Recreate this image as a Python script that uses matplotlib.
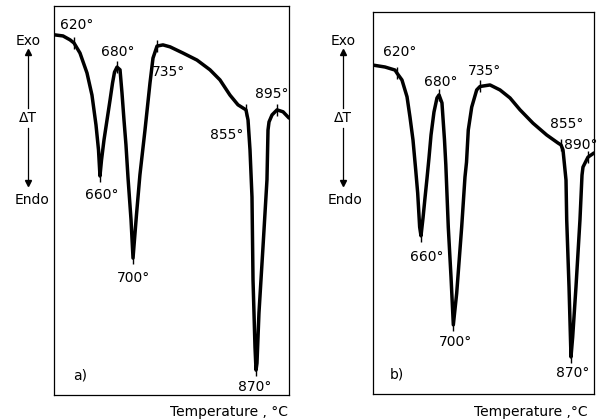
import numpy as np
import matplotlib
matplotlib.use('Agg')
import matplotlib.pyplot as plt

plt.rcParams['font.family'] = ['Liberation Sans Narrow', 'DejaVu Sans']
plt.rcParams['font.size'] = 10

# --- DANE: krzywe DTA (temperatura [°C], ΔT [j. umowne]) ---
temp_a = [593.0, 605.3, 614.8, 620.2, 628.4, 637.9, 644.7, 650.2, 653.6, 655.6,
          657.7, 661.1, 665.2, 669.3, 672.7, 675.4, 678.8, 682.9, 685.6, 688.3,
          691.0, 693.8, 697.9, 700.6, 705.3, 710.0, 716.9, 723.7, 727.8, 733.3,
          741.4, 751.0, 768.7, 787.7, 805.4, 819.0, 832.6, 843.5, 854.4, 857.2,
          859.9, 862.6, 864.0, 866.7, 868.1, 869.4, 872.1, 877.6, 883.0, 884.4,
          885.8, 889.9, 896.7, 904.9, 913.0]
dt_a = [92.6, 92.3, 91.3, 90.5, 87.9, 82.8, 77.1, 69.4, 63.0, 56.3,
        60.4, 65.6, 70.7, 75.8, 80.2, 83.0, 84.3, 83.6, 77.6, 70.7,
        64.3, 55.8, 45.0, 35.2, 46.3, 56.6, 68.1, 80.2, 86.6, 89.7,
        90.0, 89.5, 87.9, 86.1, 83.6, 81.0, 77.1, 74.6, 73.3, 70.7,
        63.0, 50.9, 29.6, 12.3, 6.4, 8.2, 21.1, 38.1, 55.3, 68.1,
        70.2, 72.0, 73.3, 72.8, 71.2]

temp_b = [586.0, 603.1, 617.4, 620.2, 627.3, 634.5, 638.7, 643.0, 646.9, 649.7,
          652.5, 654.4, 657.3, 660.1, 663.0, 665.8, 668.7, 672.9, 677.2, 680.1,
          684.3, 687.9, 689.8, 693.3, 697.2, 700.5, 705.3, 712.4, 717.1, 719.3,
          721.8, 726.7, 733.8, 738.5, 752.8, 767.0, 781.3, 795.5, 814.0, 833.6,
          849.7, 854.0, 856.8, 861.1, 862.1, 865.4, 868.2, 870.6, 875.3, 881.0,
          883.9, 885.3, 892.4, 901.0]
dt_b = [86.1, 85.6, 84.8, 84.0, 82.2, 77.8, 72.5, 66.5, 58.6, 52.6,
        43.7, 41.4, 46.1, 51.3, 56.5, 61.8, 67.8, 73.8, 77.5, 78.3,
        76.2, 66.5, 60.0, 43.7, 30.6, 18.1, 26.4, 43.7, 56.8, 60.7,
        69.1, 75.1, 79.6, 80.5, 80.9, 79.6, 77.5, 74.4, 70.9, 67.8,
        65.7, 65.2, 63.9, 56.0, 45.6, 28.0, 9.7, 14.9, 28.0, 45.6,
        57.3, 59.4, 62.0, 63.1]

# opisane punkty charakterystyczne (etykieta, położenie na krzywej)
labels_a = ['620°', '660°', '680°', '700°', '735°', '855°', '870°', '895°']
mark_a = [620.2, 655.6, 678.8, 700.6, 733.3, 854.4, 868.1, 896.7]
labels_b = ['620°', '660°', '680°', '700°', '735°', '855°', '870°', '890°']
mark_b = [620.2, 654.4, 680.1, 700.5, 738.5, 854.0, 868.2, 892.4]

# przesunięcia etykiet w punktach
offs_a = [(2, 13), (1.5, -14), (0.7, 11), (0, -14), (8, -19), (-14, -18), (-1, -12), (-4, 11.5)]
offs_b = [(2, 15), (4, -15), (1, 9), (1.5, -12), (3, 11.5), (4, 15), (1.5, -11.5), (-5, 9)]

W, H = 598, 420
fig = plt.figure(figsize=(W / 100, H / 100), dpi=100)


def panel(box, temp, dt, xlim, labels, marks, offs, tag):
    ax = fig.add_axes([box[0] / W, 1 - box[3] / H, (box[2] - box[0]) / W, (box[3] - box[1]) / H])
    ax.plot(temp, dt, color='black', lw=2.5, solid_capstyle='round', solid_joinstyle='round')
    my = np.interp(marks, temp, dt)
    ax.plot(marks, my, ls='none', marker='|', ms=8, mew=1.0, color='black')
    for txt, mx, yy, o in zip(labels, marks, my, offs):
        ax.annotate(txt, xy=(mx, yy), xytext=o, textcoords='offset points',
                    ha='center', va='center', fontsize=10)
    ax.set_xlim(*xlim)
    ax.set_ylim(0, 100)
    ax.set_xticks([])
    ax.set_yticks([])
    for s in ax.spines.values():
        s.set_linewidth(0.9)
    ax.text(0.11, 0.05, tag, transform=ax.transAxes, fontsize=10, ha='center', va='center')
    return ax


panel((54, 6, 289, 395), temp_a, dt_a, (593, 913), labels_a, mark_a, offs_a, 'a)')
panel((373, 12, 594, 394), temp_b, dt_b, (586, 901), labels_b, mark_b, offs_b, 'b)')


def fx(x):
    return x / W


def fy(y):
    return 1 - y / H


# opisy osi ΔT (Exo / Endo) po lewej stronie
for x0, xe in [(28, 32), (343, 345)]:
    fig.text(fx(x0), fy(41), 'Exo', ha='center', va='center', fontsize=10)
    fig.text(fx(x0), fy(118), 'ΔT', ha='center', va='center', fontsize=10)
    fig.text(fx(xe), fy(200), 'Endo', ha='center', va='center', fontsize=10)
    fig.add_artist(plt.Line2D([fx(x0)] * 2, [fy(108), fy(55)], color='black', lw=0.9))
    fig.add_artist(plt.Line2D([fx(x0)] * 2, [fy(128), fy(180)], color='black', lw=0.9))
    fig.add_artist(plt.Line2D([fx(x0)], [fy(52)], marker='^', ms=5, color='black'))
    fig.add_artist(plt.Line2D([fx(x0)], [fy(183)], marker='v', ms=5, color='black'))

fig.text(fx(288), fy(412), 'Temperature , °C', ha='right', va='center', fontsize=10)
fig.text(fx(588), fy(412), 'Temperature ,°C', ha='right', va='center', fontsize=10)

fig.savefig('out.png', dpi=100)
